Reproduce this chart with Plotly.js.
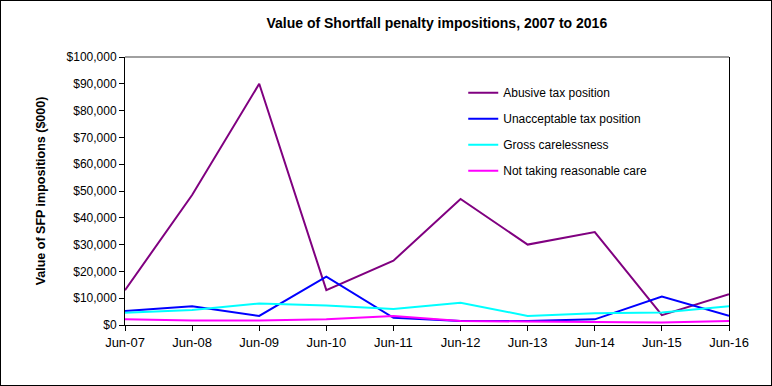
<!DOCTYPE html>
<html>
<head>
<meta charset="utf-8">
<script src="https://cdn.plot.ly/plotly-3.0.1.min.js"></script>
<style>
  html, body { margin: 0; padding: 0; background: #fff; }
  #frame { width: 772px; height: 386px; box-sizing: border-box; border: 1px solid #000; }
  #chart { width: 770px; height: 384px; }
</style>
</head>
<body>
<div id="frame"><div id="chart"></div></div>
<script>
// Shortfall penalty impositions by category ($000)
const years = ['Jun-07', 'Jun-08', 'Jun-09', 'Jun-10', 'Jun-11', 'Jun-12', 'Jun-13', 'Jun-14', 'Jun-15', 'Jun-16'];

const abusive      = [13000, 48500, 90000, 13000, 24000, 47000, 30000, 34700, 3700, 11500];
const unacceptable = [5200, 7000, 3400, 18000, 2700, 1500, 1500, 2100, 10600, 3400];
const gross        = [4600, 5600, 8000, 7300, 6000, 8300, 3400, 4400, 4700, 7000];
const notTaking    = [2100, 1700, 1700, 2100, 3400, 1500, 1300, 1100, 900, 1500];

const seriesNames  = ['Abusive tax position', 'Unacceptable tax position', 'Gross carelessness', 'Not taking reasonable care'];
const seriesColors = ['#800080', '#0000ff', '#00ffff', '#ff00ff'];
const seriesValues = [abusive, unacceptable, gross, notTaking];

const yTicks = [0, 10000, 20000, 30000, 40000, 50000, 60000, 70000, 80000, 90000, 100000];
const yTickText = yTicks.map(v => '$' + v.toLocaleString('en-US'));

const traces = seriesValues.map((vals, i) => ({
    x: years,
    y: vals,
    name: seriesNames[i],
    type: 'scatter',
    mode: 'lines',
    line: { color: seriesColors[i], width: 2 },
    legendgroup: 'g' + i,
    hoverinfo: 'skip'
}));

const layout = {
    width: 770,
    height: 384,
    margin: { l: 124, r: 42, t: 56, b: 60 },
    paper_bgcolor: '#fff',
    plot_bgcolor: '#fff',
    font: { family: 'Liberation Sans, Arial, sans-serif', color: '#000', size: 12 },
    title: {
        text: '<b>Value of Shortfall penalty impositions, 2007 to 2016</b>',
        font: { size: 14 },
        x: 0.566,
        xanchor: 'center',
        y: 0.942,
        yanchor: 'middle'
    },
    xaxis: {
        type: 'category',
        range: [0, years.length - 1],
        showgrid: false,
        zeroline: false,
        showline: true,
        linecolor: '#000',
        linewidth: 1,
        ticks: 'outside',
        ticklen: 5,
        tickcolor: '#000',
        tickfont: { size: 13 }
    },
    yaxis: {
        range: [0, 100000],
        tickvals: yTicks,
        ticktext: yTickText,
        showgrid: false,
        zeroline: false,
        showline: true,
        mirror: true,
        linecolor: '#000',
        linewidth: 1,
        ticks: 'outside',
        ticklen: 5,
        tickcolor: '#000',
        tickfont: { size: 12 },
        title: {
            text: '<b>Value of SFP impositions ($000)</b>',
            font: { size: 12.5 },
            standoff: 18
        }
    },
    shapes: [
        // grey top edge of the plot area
        { type: 'line', xref: 'paper', yref: 'paper', x0: 0, x1: 1, y0: 1, y1: 1,
          line: { color: '#808080', width: 1.5 } }
    ],
    showlegend: true,
    legend: {
        x: 0.56,
        xanchor: 'left',
        y: 0.921,
        yanchor: 'top',
        bgcolor: 'rgba(0,0,0,0)',
        borderwidth: 0,
        tracegroupgap: 7,
        font: { size: 12 }
    }
};

Plotly.newPlot('chart', traces, layout, { displayModeBar: false, staticPlot: true });
</script>
</body>
</html>
